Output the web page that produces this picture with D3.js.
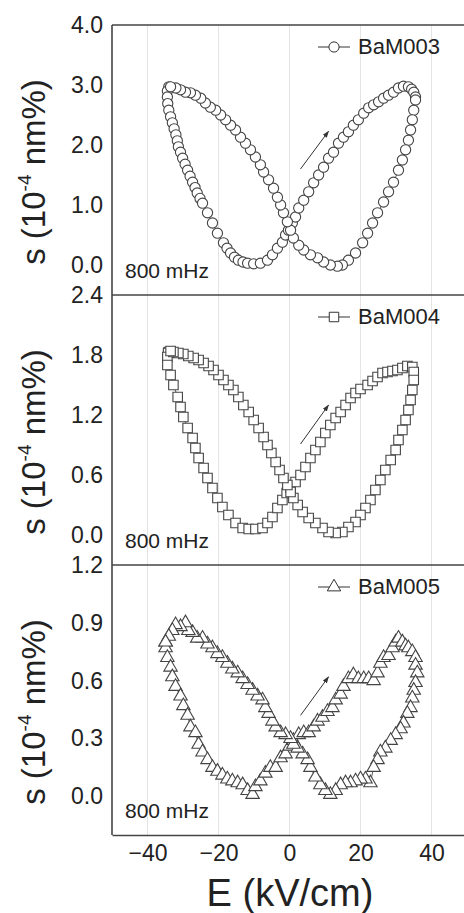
<!DOCTYPE html>
<html>
<head>
<meta charset="utf-8">
<script src="https://cdn.jsdelivr.net/npm/d3@7"></script>
<style>
  body { margin: 0; background: #fff; }
  text { font-family: "Liberation Sans", Arial, sans-serif; fill: #222; }
</style>
</head>
<body>
<div id="chart"></div>
<script>
// values: [E (kV/cm), s (1e-4 nm%)]
var loop003 = [[-34.0,2.97],[-34.4,2.90],[-34.4,2.80],[-34.3,2.69],[-34.0,2.58],[-33.5,2.47],[-33.0,2.37],[-32.5,2.27],[-32.0,2.17],[-31.6,2.07],[-31.3,1.97],[-30.7,1.88],[-30.1,1.78],[-29.4,1.68],[-28.7,1.58],[-28.0,1.48],[-27.3,1.38],[-26.6,1.29],[-26.0,1.20],[-25.2,1.11],[-24.5,1.03],[-23.1,0.87],[-21.7,0.70],[-20.3,0.53],[-18.6,0.37],[-17.6,0.28],[-16.6,0.20],[-15.5,0.13],[-14.4,0.08],[-13.1,0.05],[-11.8,0.03],[-10.1,0.02],[-8.2,0.03],[-6.2,0.08],[-4.8,0.17],[-3.4,0.28],[-2.0,0.38],[-1.1,0.50],[-0.3,0.58],[0.8,0.70],[1.7,0.80],[2.6,0.95],[4.0,1.08],[5.4,1.22],[6.8,1.37],[8.2,1.50],[9.6,1.63],[11.0,1.78],[12.4,1.88],[13.8,2.03],[15.2,2.13],[16.6,2.22],[18.0,2.33],[19.4,2.42],[20.9,2.53],[22.3,2.62],[23.7,2.67],[25.1,2.72],[26.5,2.78],[27.9,2.83],[29.3,2.88],[30.7,2.95],[32.1,2.98],[33.5,2.97],[34.4,2.93],[35.0,2.88],[35.5,2.80],[35.5,2.75],[35.0,2.58],[34.6,2.42],[34.1,2.25],[33.5,2.08],[32.7,1.92],[31.8,1.75],[30.7,1.58],[29.3,1.38],[27.9,1.22],[26.5,1.05],[24.8,0.87],[23.4,0.70],[22.0,0.53],[20.6,0.37],[18.6,0.20],[16.6,0.08],[14.9,0.00],[13.5,-0.02],[11.5,0.00],[9.6,0.05],[7.9,0.12],[5.9,0.17],[4.0,0.25],[2.6,0.33],[1.1,0.45],[0.3,0.58],[-0.6,0.72],[-1.7,0.87],[-2.5,1.00],[-3.4,1.13],[-4.5,1.28],[-5.9,1.42],[-7.3,1.55],[-8.2,1.67],[-9.6,1.80],[-11.0,1.92],[-12.4,2.03],[-13.8,2.13],[-15.2,2.25],[-16.6,2.33],[-18.0,2.42],[-19.4,2.50],[-20.8,2.58],[-22.3,2.63],[-23.7,2.70],[-25.0,2.78],[-26.5,2.83],[-27.9,2.87],[-29.3,2.88],[-30.7,2.92],[-32.0,2.95],[-33.5,2.97]];

var loop004 = [[-34.0,1.83],[-34.2,1.82],[-34.4,1.78],[-34.4,1.70],[-33.5,1.60],[-32.7,1.50],[-31.5,1.38],[-30.7,1.28],[-29.9,1.18],[-28.7,1.07],[-27.3,0.97],[-26.5,0.87],[-25.6,0.77],[-24.2,0.67],[-23.1,0.57],[-21.7,0.47],[-20.3,0.37],[-18.9,0.28],[-17.2,0.20],[-15.2,0.12],[-13.2,0.07],[-11.5,0.06],[-9.6,0.06],[-7.6,0.07],[-6.2,0.12],[-4.8,0.18],[-3.4,0.27],[-2.0,0.35],[-0.8,0.42],[0.3,0.47],[1.7,0.53],[3.1,0.60],[4.5,0.68],[5.9,0.77],[7.3,0.85],[8.7,0.93],[10.1,1.02],[11.5,1.10],[13.0,1.17],[14.4,1.23],[15.8,1.30],[17.2,1.37],[18.6,1.42],[20.0,1.46],[22.0,1.50],[23.4,1.54],[24.8,1.58],[26.2,1.62],[27.6,1.63],[29.0,1.64],[30.4,1.65],[31.8,1.67],[33.2,1.69],[34.6,1.68],[35.0,1.63],[35.0,1.55],[34.6,1.45],[34.1,1.35],[33.5,1.25],[32.7,1.15],[31.8,1.05],[30.7,0.95],[29.9,0.85],[28.5,0.75],[27.0,0.65],[25.6,0.55],[24.2,0.45],[22.8,0.35],[21.4,0.27],[20.0,0.20],[18.6,0.13],[16.6,0.08],[14.9,0.03],[13.0,0.02],[11.0,0.03],[9.3,0.07],[7.3,0.12],[5.4,0.17],[3.7,0.23],[2.3,0.30],[1.1,0.37],[0.3,0.43],[-0.6,0.50],[-1.7,0.57],[-2.8,0.65],[-3.9,0.73],[-5.1,0.82],[-6.2,0.90],[-7.3,0.98],[-8.7,1.07],[-10.1,1.15],[-11.5,1.23],[-13.0,1.30],[-14.4,1.38],[-15.8,1.45],[-17.2,1.50],[-18.6,1.55],[-20.0,1.60],[-21.4,1.65],[-22.8,1.69],[-24.2,1.72],[-25.6,1.75],[-27.0,1.77],[-28.5,1.79],[-29.9,1.81],[-31.3,1.82],[-32.7,1.83],[-33.5,1.84]];

var loop005 = [[-34.9,0.80],[-34.9,0.77],[-34.4,0.72],[-33.5,0.67],[-33.0,0.62],[-32.1,0.57],[-30.7,0.52],[-29.9,0.47],[-28.7,0.42],[-27.9,0.36],[-26.5,0.33],[-25.6,0.27],[-24.5,0.23],[-23.1,0.19],[-21.7,0.15],[-20.3,0.13],[-18.9,0.11],[-17.5,0.09],[-16.1,0.08],[-14.6,0.07],[-13.2,0.06],[-11.8,0.03],[-10.4,0.01],[-9.6,0.05],[-8.2,0.08],[-6.8,0.12],[-5.4,0.15],[-3.9,0.15],[-2.5,0.20],[-1.1,0.22],[0.0,0.26],[1.1,0.29],[2.6,0.32],[4.0,0.33],[5.4,0.33],[6.8,0.36],[7.9,0.39],[9.3,0.41],[10.7,0.44],[12.1,0.46],[13.0,0.50],[14.4,0.53],[15.2,0.57],[16.6,0.61],[18.0,0.63],[19.4,0.61],[20.9,0.61],[22.3,0.61],[23.7,0.60],[24.8,0.64],[25.6,0.69],[26.5,0.72],[27.9,0.73],[29.0,0.77],[29.9,0.80],[30.7,0.82],[31.8,0.80],[32.7,0.78],[33.5,0.77],[34.6,0.75],[35.5,0.72],[35.5,0.68],[36.0,0.64],[35.5,0.59],[35.0,0.55],[34.6,0.51],[34.1,0.46],[33.2,0.43],[32.1,0.38],[31.3,0.35],[29.9,0.32],[28.5,0.29],[27.0,0.25],[25.6,0.23],[24.8,0.19],[23.7,0.15],[22.8,0.07],[21.4,0.09],[20.0,0.09],[18.6,0.08],[17.2,0.07],[15.8,0.07],[14.4,0.06],[13.0,0.03],[11.5,0.01],[10.1,0.03],[8.7,0.06],[7.3,0.10],[5.9,0.15],[5.1,0.19],[3.7,0.22],[2.3,0.25],[1.1,0.27],[0.3,0.30],[-1.1,0.32],[-2.5,0.33],[-3.9,0.36],[-4.8,0.39],[-5.9,0.43],[-6.8,0.46],[-7.6,0.50],[-9.0,0.52],[-10.4,0.55],[-11.8,0.58],[-13.2,0.61],[-14.6,0.64],[-16.1,0.66],[-17.5,0.69],[-18.9,0.72],[-20.3,0.74],[-21.7,0.77],[-23.1,0.79],[-24.5,0.82],[-26.0,0.82],[-27.3,0.85],[-28.5,0.86],[-29.3,0.90],[-30.7,0.88],[-32.1,0.89],[-33.0,0.86],[-34.0,0.83],[-34.9,0.80]];

var names = ["BaM003", "BaM004", "BaM005"];
var xDomain = [-50, 50];
var xTicks = [-40, -20, 0, 20, 40];
var yDomains = [[-0.5, 4.0], [-0.3, 2.4], [-0.2, 1.2]];
var yTicks = [[0, 1, 2, 3, 4], [0, 0.6, 1.2, 1.8, 2.4], [0, 0.3, 0.6, 0.9, 1.2]];
// arrow start / end in data units
var arrows = [[[3.1, 1.60], [11.0, 2.23]], [[3.1, 0.91], [11.0, 1.30]], [[3.1, 0.42], [11.0, 0.62]]];
var freqLabel = "800 mHz";

var width = 464, height = 913,
    left = 112, right = 467,
    panelH = 270, top0 = 25;

var loops = [loop003, loop004, loop005];
var shapes = [d3.symbolCircle, d3.symbolSquare, d3.symbolTriangle];
var sizes = [82, 90, 78];

var svg = d3.select("#chart")
    .append("svg")
    .attr("width", width)
    .attr("height", height);

svg.append("defs").append("marker")
    .attr("id", "head")
    .attr("viewBox", "0 0 10 10")
    .attr("refX", 9).attr("refY", 5)
    .attr("markerWidth", 7).attr("markerHeight", 7)
    .attr("orient", "auto")
    .append("path")
    .attr("d", "M0,1.5 L10,5 L0,8.5 Z")
    .attr("fill", "#333");

var x = d3.scaleLinear().domain(xDomain).range([left, right]);

loops.forEach(function (data, i) {
    var top = top0 + i * panelH;
    var y = d3.scaleLinear().domain(yDomains[i]).range([top + panelH, top]);
    var g = svg.append("g");

    // faint vertical grid
    g.selectAll(".grid")
        .data(xTicks)
        .enter()
        .append("line")
        .attr("x1", function (d) { return x(d); })
        .attr("x2", function (d) { return x(d); })
        .attr("y1", top)
        .attr("y2", top + panelH)
        .attr("stroke", "#e4e4e4")
        .attr("stroke-width", 1);

    // connecting line
    g.append("path")
        .datum(data)
        .attr("fill", "none")
        .attr("stroke", "#333")
        .attr("stroke-width", 0.8)
        .attr("d", d3.line()
            .x(function (d) { return x(d[0]); })
            .y(function (d) { return y(d[1]); }));

    var sym = d3.symbol().type(shapes[i]).size(sizes[i]);
    g.selectAll(".pt")
        .data(data)
        .enter()
        .append("path")
        .attr("d", sym)
        .attr("transform", function (d) { return "translate(" + x(d[0]) + "," + y(d[1]) + ")"; })
        .attr("fill", "#fff")
        .attr("stroke", "#444")
        .attr("stroke-width", 1.1);

    // y labels
    var ax = svg.append("g")
        .attr("transform", "translate(" + left + ",0)")
        .call(d3.axisLeft(y).tickValues(yTicks[i]).tickSize(0).tickPadding(9).tickFormat(d3.format(".1f")));
    ax.select(".domain").remove();
    ax.selectAll("text").style("font-size", "23px").attr("fill", "#222").style("font-family", "'Liberation Sans', Arial, sans-serif");

    // panel top border
    svg.append("line")
        .attr("x1", left).attr("x2", width)
        .attr("y1", top).attr("y2", top)
        .attr("stroke", "#444").attr("stroke-width", 1.6);

    // legend
    var ly = top + 22;
    svg.append("line")
        .attr("x1", 318).attr("x2", 350)
        .attr("y1", ly).attr("y2", ly)
        .attr("stroke", "#333").attr("stroke-width", 1);
    svg.append("path")
        .attr("d", sym)
        .attr("transform", "translate(334," + ly + ")")
        .attr("fill", "#fff")
        .attr("stroke", "#333")
        .attr("stroke-width", 1);
    svg.append("text")
        .attr("x", 358).attr("y", top + 29)
        .style("font-size", "22px")
        .text(names[i]);

    svg.append("text")
        .attr("x", 125).attr("y", top + panelH - 17)
        .style("font-size", "21px")
        .text(freqLabel);

    // direction arrow
    var a = arrows[i];
    svg.append("line")
        .attr("x1", x(a[0][0])).attr("y1", y(a[0][1]))
        .attr("x2", x(a[1][0])).attr("y2", y(a[1][1]))
        .attr("stroke", "#333").attr("stroke-width", 1)
        .attr("marker-end", "url(#head)");

    // y title
    var t = svg.append("text")
        .attr("transform", "translate(45," + (top + panelH / 2 + 12) + ") rotate(-90)")
        .attr("text-anchor", "middle")
        .style("font-size", "33px");
    t.append("tspan").text("s (10");
    t.append("tspan").attr("dy", -14).style("font-size", "19px").text("-4");
    t.append("tspan").attr("dy", 14).text(" nm%)");
});

// left spine and bottom border
svg.append("line")
    .attr("x1", left).attr("x2", left)
    .attr("y1", top0).attr("y2", top0 + 3 * panelH)
    .attr("stroke", "#444").attr("stroke-width", 1.6);

var xAxis = svg.append("g")
    .attr("transform", "translate(0," + (top0 + 3 * panelH) + ")")
    .call(d3.axisBottom(x).tickValues(xTicks).tickSize(0).tickPadding(10));
xAxis.select(".domain")
    .attr("stroke", "#444").attr("stroke-width", 1.6);
xAxis.selectAll("text").style("font-size", "23px").attr("fill", "#222").style("font-family", "'Liberation Sans', Arial, sans-serif");

svg.append("text")
    .attr("x", 290).attr("y", 906)
    .attr("text-anchor", "middle")
    .style("font-size", "38px")
    .text("E (kV/cm)");
</script>
</body>
</html>
